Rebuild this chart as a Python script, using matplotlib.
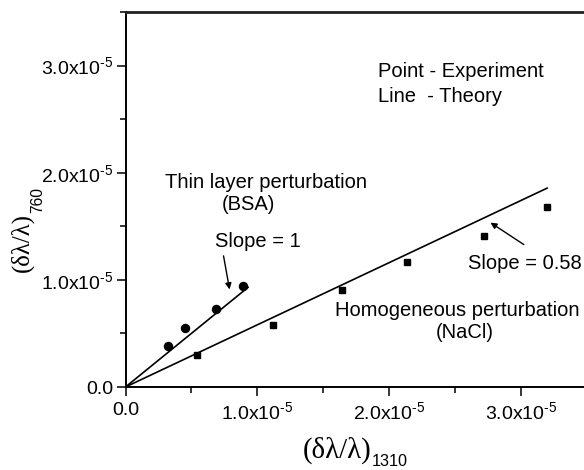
import matplotlib
matplotlib.use("Agg")
import matplotlib.pyplot as plt
import numpy as np
from matplotlib.ticker import MultipleLocator, FuncFormatter

plt.rcParams['font.family'] = ['Liberation Sans', 'DejaVu Sans']
plt.rcParams['mathtext.fontset'] = 'custom'
plt.rcParams['mathtext.rm'] = 'Liberation Sans'
plt.rcParams['mathtext.it'] = 'Liberation Sans:italic'
plt.rcParams['mathtext.sf'] = 'Liberation Sans'

# Data (units of 1e-5)
bsa_x = [0.326, 0.45, 0.69, 0.894]
bsa_y = [0.38, 0.554, 0.726, 0.941]
nacl_x = [0.541, 1.12, 1.646, 2.14, 2.72, 3.2]
nacl_y = [0.296, 0.58, 0.907, 1.168, 1.408, 1.676]
bsa_slope = 1.0
bsa_line_x = [0.0, 0.93]
nacl_slope = 0.58
nacl_line_x = [0.0, 3.2]

W, H = 584, 470
scale = 1e-5
fig = plt.figure(figsize=(W/100, H/100), dpi=100)
ax = fig.add_axes([125.5/W, (H-387)/H, 1 - 125.5/W, (387-12)/H])

ax.plot(np.array(bsa_line_x)*scale, np.array(bsa_line_x)*bsa_slope*scale, color='black', lw=1.2)
ax.plot(np.array(nacl_line_x)*scale, np.array(nacl_line_x)*nacl_slope*scale, color='black', lw=1.2)
ax.plot(np.array(bsa_x)*scale, np.array(bsa_y)*scale, 'o', color='black', ms=5.8, ls='none')
ax.plot(np.array(nacl_x)*scale, np.array(nacl_y)*scale, 's', color='black', ms=5.0, ls='none')

ax.set_xlim(0, 3.48e-5)
ax.set_ylim(0, 3.5e-5)

def fmt(v, pos):
    if abs(v) < 1e-12:
        return '0.0'
    return '%.1fx10$^{\\text{-5}}$' % (v/1e-5)

for axis in (ax.xaxis, ax.yaxis):
    axis.set_major_locator(MultipleLocator(1e-5))
    axis.set_minor_locator(MultipleLocator(0.5e-5))
    axis.set_major_formatter(FuncFormatter(fmt))

ax.tick_params(which='major', direction='out', length=6.5, width=1.1, labelsize=14)
ax.tick_params(axis='y', which='major', pad=2)
ax.tick_params(axis='x', which='major', pad=4)
ax.tick_params(which='minor', direction='out', length=4, width=1.1)
ax.spines['right'].set_visible(False)
ax.spines['left'].set_linewidth(1.4)
ax.spines['bottom'].set_linewidth(1.4)
ax.spines['top'].set_linewidth(2.0)
ax.spines['top'].set_color('#222222')

renderer = fig.canvas.get_renderer()

def fitted_text(xp, yp, s, target, fs, horizontal=True, **kw):
    t = fig.text(xp/W, 1 - yp/H, s, fontsize=fs, ha='center', va='center', **kw)
    bb = t.get_window_extent(renderer)
    size = bb.width if horizontal else bb.height
    t.set_fontsize(fs*target/size)
    return t

# x label: (δλ/λ)_1310
fitted_text(337.5, 450, '(δλ/λ)', 69, 18, family='Liberation Serif')
fitted_text(390, 461, '1310', 36, 12)
# y label: (δλ/λ)_760
fitted_text(22, 242.5, '(δλ/λ)', 59, 18, horizontal=False, family='Liberation Serif', rotation=90)
fitted_text(37.5, 200, '760', 26, 11, horizontal=False, rotation=90)

def px(xp, yp):
    return ((xp-125.5)/131.7*scale, (386.7-yp)/107.0*scale)

FS = 14.5
ax.text(*px(378, 77), 'Point - Experiment', fontsize=FS, ha='left', va='baseline')
ax.text(*px(378, 102), 'Line  - Theory', fontsize=FS, ha='left', va='baseline')
ax.text(*px(266, 188), 'Thin layer perturbation', fontsize=FS, ha='center', va='baseline')
ax.text(*px(248, 210), '(BSA)', fontsize=FS, ha='center', va='baseline')
ax.text(*px(215, 247), 'Slope = 1', fontsize=FS, ha='left', va='baseline')
ax.text(*px(468, 269), 'Slope = 0.58', fontsize=FS, ha='left', va='baseline')
ax.text(*px(457, 316), 'Homogeneous perturbation', fontsize=FS, ha='center', va='baseline')
ax.text(*px(465, 338), '(NaCl)', fontsize=FS, ha='center', va='baseline')

ax.annotate('', xy=px(230, 292), xytext=px(223, 253),
            arrowprops=dict(arrowstyle='-|>', color='black', lw=1.0, mutation_scale=9))
ax.annotate('', xy=px(488, 221), xytext=px(526, 246),
            arrowprops=dict(arrowstyle='-|>', color='black', lw=1.0, mutation_scale=9))

fig.savefig('out.png', dpi=100)
